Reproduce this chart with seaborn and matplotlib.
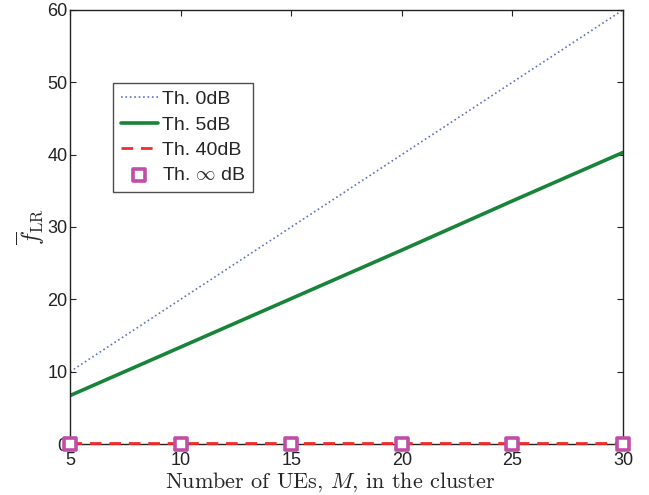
import matplotlib
matplotlib.use("Agg")
import matplotlib.pyplot as plt
import seaborn as sns
import pandas as pd

# data
M = [5, 10, 15, 20, 25, 30]
th_0db = [10, 20, 30, 40, 50, 60]
th_5db = [6.7, 13.4, 20.1, 26.8, 33.6, 40.3]
th_40db = [0.08, 0.08, 0.08, 0.08, 0.08, 0.08]
th_inf = [0, 0, 0, 0, 0, 0]

sns.set_style("white")
plt.rcParams['font.family'] = ['Liberation Sans', 'DejaVu Sans']
plt.rcParams['mathtext.fontset'] = 'cm'

fig = plt.figure(figsize=(6.49, 4.95), dpi=100)
ax = fig.add_axes([0.108, 0.103, 0.852, 0.877])

lines = [
    ("Th. 0dB", th_0db, dict(color="#6070c4", linestyle=":", linewidth=1.2)),
    ("Th. 5dB", th_5db, dict(color="#18843a", linestyle="-", linewidth=2.6)),
    ("Th. 40dB", th_40db, dict(color="#f52a2a", linestyle=(0, (4.2, 2.8)),
                               linewidth=2.0, clip_on=False, zorder=4)),
]
for name, vals, kw in lines:
    df = pd.DataFrame({"M": M, "f": vals})
    sns.lineplot(data=df, x="M", y="f", ax=ax, label=name, **kw)

df_inf = pd.DataFrame({"M": M, "f": th_inf})
sns.scatterplot(data=df_inf, x="M", y="f", ax=ax, label=r"Th. $\infty$ dB",
                marker="s", s=85, facecolor="white", edgecolor="#c04ea8",
                linewidth=2.6, clip_on=False, zorder=5)

ax.set_xlim(5, 30)
ax.set_ylim(0, 60)
ax.set_xticks([5, 10, 15, 20, 25, 30])
ax.set_yticks([0, 10, 20, 30, 40, 50, 60])
ax.tick_params(direction="in", length=4, labelsize=13, colors="#222222",
               bottom=True, left=True, top=True, right=True, pad=2)
ax.tick_params(axis="x", pad=6)
for s in ax.spines.values():
    s.set_color("#222222")
    s.set_linewidth(1.0)

# serif x label, nudged a little left like the reference
ax.set_xlabel(r"Number of UEs, $M$, in the cluster", fontfamily="cmr10",
              fontsize=16, labelpad=0)
ax.xaxis.set_label_coords(0.47, -0.06, transform=ax.transAxes)
ax.xaxis.label.set_va("top")
ax.set_ylabel(r"$\overline{f}_{\mathrm{LR}}$", fontsize=17, labelpad=0)

leg = ax.legend(loc="upper left", bbox_to_anchor=(0.078, 0.832), fontsize=14,
                frameon=True, fancybox=False, edgecolor="#222222",
                handlelength=1.9, borderpad=0.4, labelspacing=0.4,
                handletextpad=0.2, borderaxespad=0, markerscale=0.9)
leg.get_frame().set_linewidth(1.0)

fig.savefig("out.png", dpi=100)
